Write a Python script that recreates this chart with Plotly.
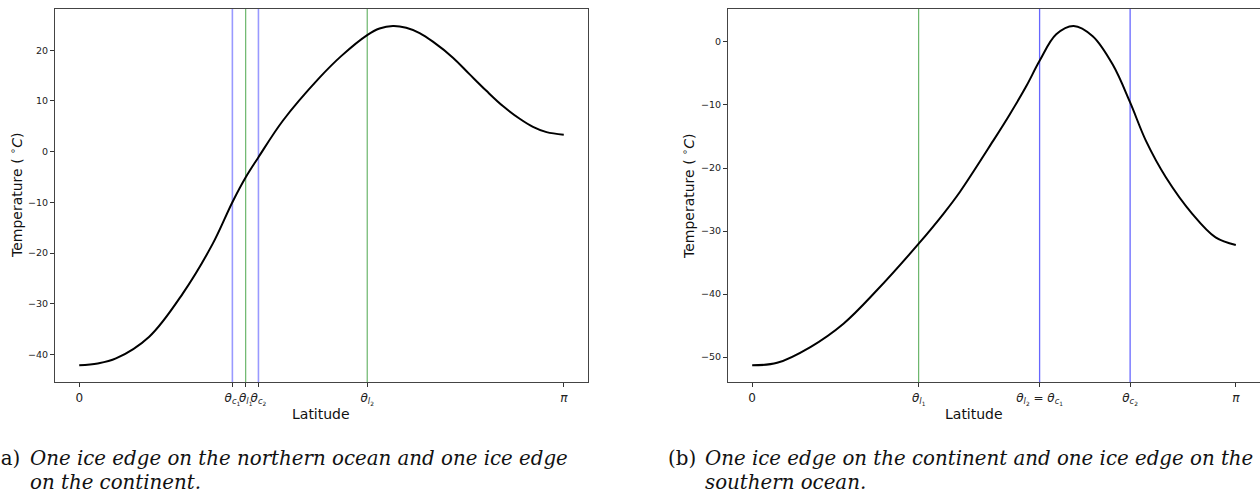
import plotly.graph_objects as go
import numpy as np

# ---------------- data ----------------
# Panel (a): one ice edge on the northern ocean and one on the continent
lat_a = [0.0, 0.12, 0.238, 0.454, 0.671, 0.865, 0.993, 1.0795, 1.162, 1.32, 1.558, 1.70, 1.867,
         1.947, 2.034, 2.12, 2.207, 2.293, 2.423, 2.53, 2.64, 2.747, 2.856, 2.942, 3.03, 3.1416]
temp_a = [-42.16, -41.8, -40.8, -36.5, -28.0, -18.2, -9.97, -5.05, -1.1, 6.1, 14.6, 18.9, 23.0,
          24.3, 24.8, 24.45, 23.4, 21.7, 18.55, 15.3, 12.0, 9.0, 6.5, 4.9, 3.85, 3.35]
# vertical marker positions (a)
edges_a = {"c1": 0.993, "l1": 1.0795, "c2": 1.162, "l2": 1.867}

# Panel (b): one ice edge on the continent and one on the southern ocean
lat_b = [0.0, 0.162, 0.378, 0.593, 0.81, 1.0816, 1.241, 1.349, 1.565, 1.673, 1.781, 1.867, 1.975,
         2.088, 2.212, 2.342, 2.455, 2.558, 2.688, 2.86, 3.01, 3.1416]
temp_b = [-51.3, -50.9, -48.4, -44.7, -39.4, -32.0, -27.3, -23.8, -15.7, -11.5, -7.0, -3.0, 1.2,
          2.53, 0.9, -3.6, -9.6, -15.7, -21.5, -27.3, -31.0, -32.2]
edges_b = {"l1": 1.0816, "l2c1": 1.867, "c2": 2.455}

yticks_a = [-40, -30, -20, -10, 0, 10, 20]
yticks_b = [-50, -40, -30, -20, -10, 0]

xt_a_vals = [0.0, edges_a["c1"], edges_a["l1"], edges_a["c2"], edges_a["l2"], np.pi]
xt_a_text = ["0",
             "<i>θ</i><sub><i>c</i><sub>1</sub></sub>",
             "<i>θ</i><sub><i>l</i><sub>1</sub></sub>",
             "<i>θ</i><sub><i>c</i><sub>2</sub></sub>",
             "<i>θ</i><sub><i>l</i><sub>2</sub></sub>",
             "<i>π</i>"]
xt_b_vals = [0.0, edges_b["l1"], edges_b["l2c1"], edges_b["c2"], np.pi]
xt_b_text = ["0",
             "<i>θ</i><sub><i>l</i><sub>1</sub></sub>",
             "<i>θ</i><sub><i>l</i><sub>2</sub></sub> = <i>θ</i><sub><i>c</i><sub>1</sub></sub>",
             "<i>θ</i><sub><i>c</i><sub>2</sub></sub>",
             "<i>π</i>"]

caption_a = ["One ice edge on the northern ocean and one ice edge", "on the continent."]
caption_b = ["One ice edge on the continent and one ice edge on the", "southern ocean."]

# ---------------- layout helpers ----------------
W, H = 1260, 496
px = lambda v: v / W
py = lambda v: 1 - v / H


def yrange(vals):
    lo, hi = min(vals), max(vals)
    m = 0.05 * (hi - lo)
    return [lo - m, hi + m]


xr = [-0.05 * np.pi, 1.05 * np.pi]

fig = go.Figure()
fig.add_trace(go.Scatter(x=lat_a, y=temp_a, mode="lines", line=dict(color="black", width=2, shape="spline", smoothing=1.0),
                         xaxis="x", yaxis="y", showlegend=False, hoverinfo="skip"))
fig.add_trace(go.Scatter(x=lat_b, y=temp_b, mode="lines", line=dict(color="black", width=2, shape="spline", smoothing=1.0),
                         xaxis="x2", yaxis="y2", showlegend=False, hoverinfo="skip"))

blue_a = "rgba(0,0,255,0.4)"
blue_b = "rgba(0,0,255,0.6)"
green = "rgba(0,128,0,0.7)"

shapes = []
def vline(x, xref, yref, color, width):
    shapes.append(dict(type="line", xref=xref, yref=yref + " domain", x0=x, x1=x, y0=0, y1=1,
                       line=dict(color=color, width=width), layer="below"))

vline(edges_a["l1"], "x", "y", green, 1)
vline(edges_a["l2"], "x", "y", green, 1)
vline(edges_a["c1"], "x", "y", blue_a, 1.6)
vline(edges_a["c2"], "x", "y", blue_a, 1.6)
vline(edges_b["l1"], "x2", "y2", green, 1)
vline(edges_b["l2c1"], "x2", "y2", blue_b, 1.3)
vline(edges_b["c2"], "x2", "y2", blue_b, 1.3)

axis_common = dict(showgrid=False, zeroline=False, showline=True, linecolor="#444", linewidth=1,
                   ticks="outside", ticklen=4, tickcolor="#333", tickwidth=1)

fig.update_layout(
    width=W, height=H, margin=dict(l=0, r=0, t=0, b=0),
    paper_bgcolor="white", plot_bgcolor="white",
    font=dict(family="DejaVu Sans", color="#222"),
    xaxis=dict(domain=[px(55), px(588)], range=xr, anchor="y", mirror=True, tickangle=0,
               tickmode="array", tickvals=xt_a_vals, ticktext=xt_a_text,
               tickfont=dict(size=12, color="#222"), **axis_common),
    yaxis=dict(domain=[py(382.3), py(9)], range=yrange(temp_a), anchor="x", mirror=True,
               tickmode="array", tickvals=yticks_a, ticktext=[str(v).replace("-", "−") for v in yticks_a],
               tickfont=dict(size=9.5, color="#222"), **axis_common),
    xaxis2=dict(domain=[px(728), 1.0], range=xr, anchor="y2", mirror=True, tickangle=0,
                tickmode="array", tickvals=xt_b_vals, ticktext=xt_b_text,
                tickfont=dict(size=12, color="#222"), **axis_common),
    yaxis2=dict(domain=[py(382.3), py(9)], range=yrange(temp_b), anchor="x2", mirror=False,
                tickmode="array", tickvals=yticks_b, ticktext=[str(v).replace("-", "−") for v in yticks_b],
                tickfont=dict(size=9.5, color="#222"), **axis_common),
    shapes=shapes,
)

ann = []
def label(text, x, y, angle=0, size=14, **kw):
    ann.append(dict(text=text, x=px(x), y=py(y), xref="paper", yref="paper", showarrow=False,
                    textangle=angle, font=dict(size=size, family="DejaVu Sans", color="#111"),
                    xanchor="center", yanchor="middle", **kw))

label("Latitude", 321, 414)
label("Latitude", 974, 414)
label("Temperature ( <sup>∘</sup><i>C</i>)", 16, 196, angle=-90)
label("Temperature ( <sup>∘</sup><i>C</i>)", 688, 196, angle=-90)

serif = "DejaVu Serif"
cap_size = 19.8
def caption(tag, lines, x_tag, x_text):
    ann.append(dict(text=tag, x=px(x_tag), y=py(458), xref="paper", yref="paper", showarrow=False,
                    xanchor="right", yanchor="middle", font=dict(size=cap_size, family=serif, color="#111")))
    for i, ln in enumerate(lines):
        ann.append(dict(text="<i>" + ln + "</i>", x=px(x_text), y=py(458 + 24 * i), xref="paper", yref="paper",
                        showarrow=False, xanchor="left", yanchor="middle", align="left",
                        font=dict(size=cap_size, family=serif, color="#111")))

caption("(a)", caption_a, 22, 28)
caption("(b)", caption_b, 698, 703)
fig.update_layout(annotations=ann)

fig.write_html("out.html")
